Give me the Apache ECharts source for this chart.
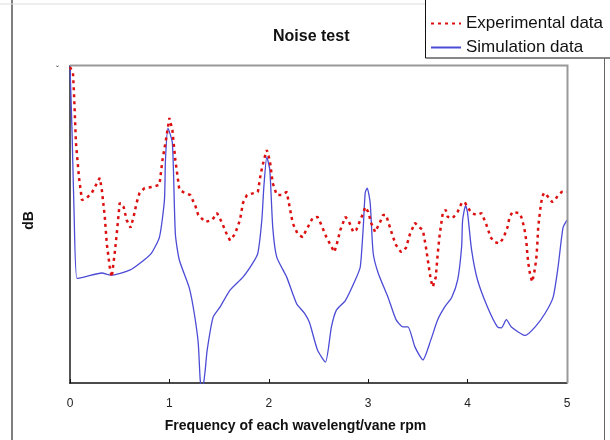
<!DOCTYPE html>
<html>
<head>
<meta charset="utf-8">
<script src="https://cdn.jsdelivr.net/npm/echarts@6/dist/echarts.min.js"></script>
<style>
  body { margin: 0; background: #fff; }
</style>
</head>
<body>
<div id="main" style="width: 610px;height:440px;"></div>
<script>
// frequency (x wavelength / vane rpm) and level (dB, relative scale)
let expFreq = [0, 0.03, 0.04, 0.06, 0.09, 0.12, 0.17, 0.22, 0.27, 0.3, 0.32, 0.35, 0.37, 0.4, 0.42, 0.45, 0.47, 0.5, 0.54, 0.57,
  0.61, 0.64, 0.67, 0.7, 0.75, 0.82, 0.9, 0.93, 0.96, 1.0, 1.03, 1.06, 1.1, 1.15, 1.21, 1.26, 1.29, 1.36, 1.43, 1.48,
  1.53, 1.58, 1.61, 1.66, 1.71, 1.74, 1.78, 1.86, 1.89, 1.92, 1.95, 1.98, 2.01, 2.04, 2.08, 2.13, 2.18, 2.21, 2.24, 2.29,
  2.34, 2.39, 2.44, 2.49, 2.52, 2.58, 2.63, 2.66, 2.69, 2.72, 2.77, 2.8, 2.85, 2.88, 2.92, 2.95, 2.97, 3.0, 3.03, 3.07,
  3.12, 3.15, 3.18, 3.22, 3.25, 3.28, 3.33, 3.38, 3.42, 3.47, 3.52, 3.55, 3.58, 3.61, 3.63, 3.65, 3.68, 3.7, 3.72, 3.75,
  3.78, 3.8, 3.85, 3.9, 3.94, 3.97, 4.0, 4.04, 4.09, 4.14, 4.17, 4.2, 4.23, 4.27, 4.32, 4.36, 4.4, 4.42, 4.45, 4.52,
  4.54, 4.57, 4.59, 4.6, 4.61, 4.63, 4.65, 4.67, 4.69, 4.7, 4.71, 4.73, 4.75, 4.77, 4.81, 4.85, 4.88, 4.91, 4.95, 4.98, 5.0]
let expDb = [99.7, 97.8, 91.5, 75.7, 65, 57.7, 58.4, 60, 63, 64.7, 61, 52.4, 44, 36.6, 33.4, 41, 47, 56.8, 55.5, 51.4,
  49, 52.4, 56.8, 60, 61.5, 61.8, 62.5, 70.3, 75.7, 83.6, 79.8, 70.3, 61, 60, 59.3, 56, 53, 50.8, 51.4, 53.6,
  50.5, 46.7, 45, 47, 51.4, 56.8, 59.3, 60, 60.3, 66.2, 70.3, 73.5, 70.3, 63, 59.3, 59.3, 60.3, 55.5, 50.5, 47,
  46, 49, 52, 52.4, 50.5, 46, 43, 41.3, 44.5, 48.3, 52.4, 51.4, 47.6, 48.3, 51.4, 53.6, 55.5, 54, 50.5, 47.6,
  50.8, 53, 53, 49, 46, 43.5, 41.3, 42.6, 47, 50.5, 49, 48.3, 43, 36.6, 32.5, 30.3, 33.4, 41, 47, 53.6,
  54.6, 52.4, 52, 54, 56.8, 57.1, 55.5, 53.6, 53, 53.6, 51.4, 49, 46, 44.5, 44, 45.7, 49, 52, 54, 53.6,
  52.4, 49, 45, 41, 37.9, 34, 31.9, 34.7, 38.8, 43, 49, 54.6, 58.7, 60, 58.7, 57.1, 57.7, 59.3, 60.3, 60.3, 60.3]

let simFreq = [0, 0.02, 0.04, 0.07, 0.15, 0.32, 0.41, 0.6, 0.72, 0.82, 0.9, 0.95, 0.96, 0.985, 1.03, 1.06, 1.1, 1.2, 1.25, 1.29,
  1.31, 1.33, 1.36, 1.38, 1.44, 1.51, 1.61, 1.74, 1.84, 1.89, 1.93, 1.95, 1.98, 2.01, 2.04, 2.08, 2.18, 2.28, 2.36, 2.41,
  2.49, 2.57, 2.63, 2.68, 2.77, 2.87, 2.92, 2.95, 2.97, 2.99, 3.02, 3.05, 3.1, 3.2, 3.28, 3.35, 3.4, 3.47, 3.55, 3.63,
  3.7, 3.77, 3.84, 3.9, 3.94, 3.95, 3.98, 4.0, 4.04, 4.1, 4.2, 4.3, 4.34, 4.39, 4.44, 4.58, 4.68, 4.78, 4.86, 4.91, 4.96, 5.0]
let simDb = [100, 80, 55, 33, 33.5, 34.7, 34, 35.6, 38.2, 41, 46, 57.7, 70, 80.4, 75.7, 47, 38.8, 30, 22, 12.6,
  1, -3, 4, 10.4, 20.8, 24, 29.3, 33.4, 37.9, 41, 51.4, 61.8, 71.3, 67.2, 49, 39.7, 33.4, 25, 22, 19,
  10.4, 6.6, 17.7, 23, 26, 32.5, 36.6, 49, 60, 61.5, 56.8, 41, 34.7, 27, 20, 17.7, 17.7, 11.4, 7.3, 13.6,
  20, 24, 27, 32.5, 43, 51.4, 56, 53.6, 42, 32.5, 24, 17.7, 17.4, 20, 17.7, 15, 17.7, 22, 27, 36.6, 49, 51.4]

let xTicks = ['0', '1', '2', '3', '4', '5']

function pairs (xs, ys) {
  return xs.map(function (x, i) {
    return [x, ys[i]]
  })
}

let myChart = echarts.init(document.getElementById('main'))
let font = 'Liberation Sans, Arial, sans-serif'

let option = {
  animation: false,
  backgroundColor: '#fff',
  title: {
    text: 'Noise test',
    left: 268,
    top: 24,
    textStyle: { fontFamily: font, fontSize: 16, fontWeight: 'bold', color: '#111' }
  },
  legend: {
    orient: 'vertical',
    left: 425,
    top: 10,
    itemWidth: 30,
    itemHeight: 14,
    itemGap: 7,
    itemStyle: { opacity: 0 },
    textStyle: { fontFamily: font, fontSize: 17, color: '#111' },
    data: ['Experimental data', 'Simulation data']
  },
  grid: {
    left: 70,
    top: 66,
    right: 43,
    bottom: 57
  },
  xAxis: {
    type: 'value',
    min: 0,
    max: 5,
    interval: 1,
    name: 'Frequency of each wavelengt/vane rpm',
    nameLocation: 'middle',
    nameGap: 36,
    nameTextStyle: { fontFamily: font, fontSize: 14, fontWeight: 'bold', color: '#111', padding: [0, 46, 0, 0] },
    axisLine: { lineStyle: { color: '#111', width: 1.5 } },
    axisTick: { inside: true, length: 4, lineStyle: { color: '#111' } },
    axisLabel: {
      margin: 15,
      fontFamily: font,
      fontSize: 12,
      color: '#222',
      formatter: function (v) {
        return xTicks[Math.round(v)]
      }
    },
    splitLine: { show: false }
  },
  yAxis: {
    type: 'value',
    min: 0,
    max: 100,
    name: 'dB',
    nameLocation: 'middle',
    nameGap: 34,
    nameRotate: 90,
    nameTextStyle: { fontFamily: font, fontSize: 14, fontWeight: 'bold', color: '#111', padding: [0, 0, 0, 8] },
    axisLine: { show: true, lineStyle: { color: '#555', width: 2 } },
    axisTick: { show: false },
    axisLabel: { show: false },
    splitLine: { show: false }
  },
  graphic: [
    // frame round the plot (top and right)
    { type: 'polyline', shape: { points: [[70, 65.5], [567.5, 65.5], [567.5, 383]] }, style: { fill: null, stroke: '#999', lineWidth: 2 }, z: 10 },
    // legend box
    { type: 'rect', shape: { x: 425.5, y: -1, width: 190, height: 59 }, style: { fill: null, stroke: '#111', lineWidth: 1 }, z: 10 },
    // outer frame
    { type: 'line', shape: { x1: 12, y1: 0, x2: 12, y2: 440 }, style: { stroke: '#555', lineWidth: 1.5 }, z: 10 },
    { type: 'line', shape: { x1: 0, y1: 4, x2: 425, y2: 4 }, style: { stroke: '#ddd', lineWidth: 1 }, z: 10 },
    { type: 'line', shape: { x1: 604.5, y1: 58, x2: 604.5, y2: 440 }, style: { stroke: '#666', lineWidth: 1 }, z: 10 },
    { type: 'text', left: 56, top: 65, style: { text: 'ˇ', fontSize: 9, fill: '#333' } }
  ],
  series: [
    {
      name: 'Experimental data',
      type: 'line',
      showSymbol: false,
      symbol: 'none',
      z: 3,
      lineStyle: { color: '#dc1010', width: 2.5, type: [3, 4] },
      itemStyle: { color: '#dc1010' },
      data: pairs(expFreq, expDb)
    },
    {
      name: 'Simulation data',
      type: 'line',
      showSymbol: false,
      symbol: 'none',
      smooth: 0.2,
      z: 2,
      lineStyle: { color: '#4b4bd6', width: 1.3 },
      itemStyle: { color: '#2a2ad0' },
      data: pairs(simFreq, simDb)
    }
  ]
}
myChart.setOption(option, true)
</script>
</body>
</html>
